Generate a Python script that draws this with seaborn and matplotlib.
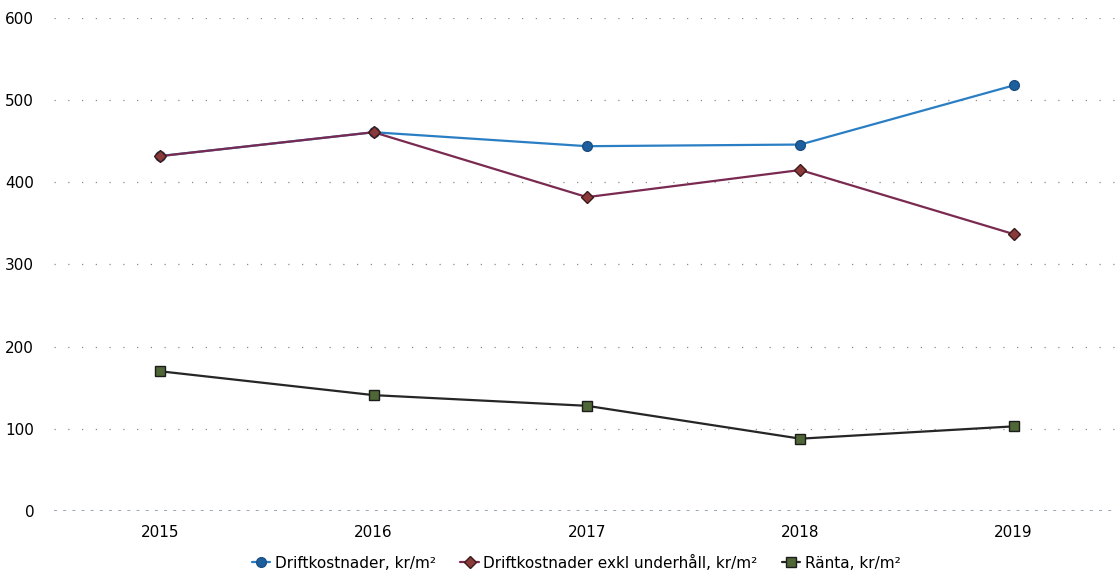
import matplotlib
matplotlib.use("Agg")
import matplotlib.pyplot as plt
import seaborn as sns
import pandas as pd

years = ["2015", "2016", "2017", "2018", "2019"]
driftkostnader = [432, 461, 444, 446, 518]
driftkostnader_exkl = [432, 461, 382, 415, 337]
ranta = [170, 141, 128, 88, 103]
series_names = ["Driftkostnader, kr/m²", "Driftkostnader exkl underhåll, kr/m²", "Ränta, kr/m²"]
y_ticks = [0, 100, 200, 300, 400, 500, 600]

sns.set_style("white")
plt.rcParams["font.family"] = ["DejaVu Sans"]

df = pd.DataFrame({
    "year": years * 3,
    "value": driftkostnader + driftkostnader_exkl + ranta,
    "series": [series_names[0]] * 5 + [series_names[1]] * 5 + [series_names[2]] * 5,
})
df["pos"] = df["year"].map({y: i for i, y in enumerate(years)})

fig = plt.figure(figsize=(11.17, 5.74), dpi=100)
ax = fig.add_axes([0.048, 0.1098, 0.955, 0.8588])

styles = {
    series_names[0]: dict(color="#2a7fc4", marker="o", mfc="#1d5f9e", mec="#1b4f80", ms=7),
    series_names[1]: dict(color="#7a2a50", marker="D", mfc="#8a3a3a", mec="#3a1a1a", ms=6),
    series_names[2]: dict(color="#262626", marker="s", mfc="#4f6636", mec="#1c1c1c", ms=7),
}

for name in series_names:
    st = styles[name]
    sub = df[df["series"] == name]
    sns.lineplot(data=sub, x="pos", y="value", ax=ax, color=st["color"], lw=1.6,
                 marker=st["marker"], markersize=st["ms"], markerfacecolor=st["mfc"],
                 markeredgecolor=st["mec"], markeredgewidth=1.0, label=name,
                 estimator=None, sort=False)

ax.set_xlim(-0.5, 4.5)
ax.set_ylim(0, 600)
ax.set_yticks(y_ticks)
ax.set_yticklabels([str(v) for v in y_ticks], fontsize=11, color="black")
ax.set_xticks(range(len(years)))
ax.set_xticklabels(years, fontsize=11, color="black")
ax.tick_params(axis="both", length=0, pad=10)
ax.tick_params(axis="y", pad=14)
ax.set_xlabel("")
ax.set_ylabel("")

for v in y_ticks[1:]:
    ax.axhline(v, color="#8a8a8a", lw=0.9, ls=(0, (1, 10)), zorder=0)
ax.axhline(0, color="#7f8fa8", lw=1.1, ls=(0, (2, 4)), zorder=0)

for s in ax.spines.values():
    s.set_visible(False)

leg = ax.legend(loc="center", bbox_to_anchor=(0.49, -0.105), ncol=3, frameon=False,
                fontsize=11, handlelength=1.2, columnspacing=1.6, handletextpad=0.3)
for t in leg.get_texts():
    t.set_color("black")

fig.savefig("out.png", dpi=100)
